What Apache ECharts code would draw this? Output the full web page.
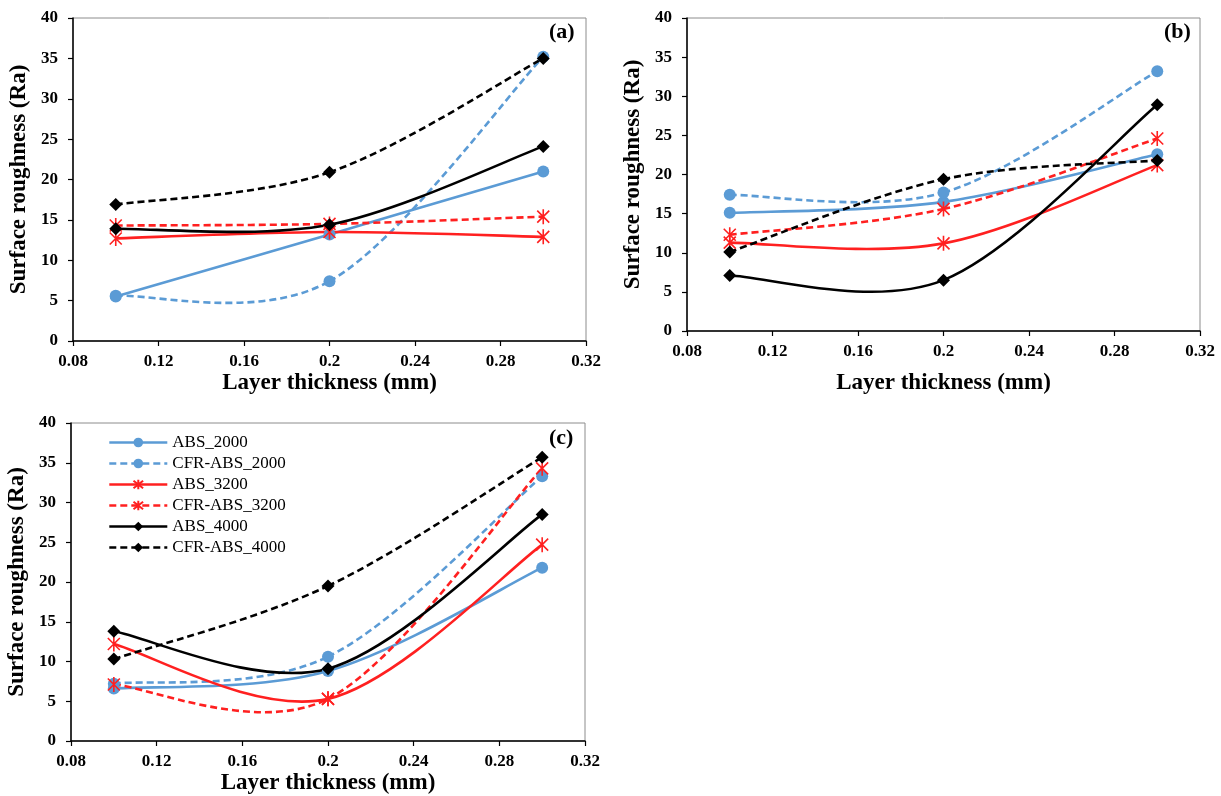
<!DOCTYPE html>
<html>
<head>
<meta charset="utf-8">
<script src="https://cdn.jsdelivr.net/npm/echarts@6/dist/echarts.min.js"></script>
<style>
html,body{margin:0;padding:0;background:#fff;}
#main{width:1221px;height:796px;}
</style>
</head>
<body>
<div id="main"></div>
<script>
// layer thickness (mm)
var xVals = [0.1, 0.2, 0.3];
var names = ['ABS_2000', 'CFR-ABS_2000', 'ABS_3200', 'CFR-ABS_3200', 'ABS_4000', 'CFR-ABS_4000'];
var xTicks = [0.08, 0.12, 0.16, 0.2, 0.24, 0.28, 0.32];
var yTicks = [0, 5, 10, 15, 20, 25, 30, 35, 40];

// (a)
var a_abs2000 = [5.5, 13.2, 21.0];
var a_cfr2000 = [5.6, 7.4, 35.2];
var a_abs3200 = [12.7, 13.5, 12.9];
var a_cfr3200 = [14.3, 14.5, 15.4];
var a_abs4000 = [13.9, 14.4, 24.1];
var a_cfr4000 = [16.9, 20.9, 35.0];
// (b)
var b_abs2000 = [15.1, 16.5, 22.6];
var b_cfr2000 = [17.4, 17.7, 33.2];
var b_abs3200 = [11.3, 11.2, 21.2];
var b_cfr3200 = [12.3, 15.6, 24.6];
var b_abs4000 = [7.1, 6.5, 28.9];
var b_cfr4000 = [10.1, 19.4, 21.8];
// (c)
var c_abs2000 = [6.6, 8.8, 21.8];
var c_cfr2000 = [7.2, 10.6, 33.3];
var c_abs3200 = [12.2, 5.3, 24.7];
var c_cfr3200 = [7.1, 5.3, 34.3];
var c_abs4000 = [13.8, 9.1, 28.5];
var c_cfr4000 = [10.3, 19.5, 35.7];

var panels = [
	[a_abs2000, a_cfr2000, a_abs3200, a_cfr3200, a_abs4000, a_cfr4000],
	[b_abs2000, b_cfr2000, b_abs3200, b_cfr3200, b_abs4000, b_cfr4000],
	[c_abs2000, c_cfr2000, c_abs3200, c_cfr3200, c_abs4000, c_cfr4000]
];

var FONT = 'Liberation Serif';
var BLUE = '#5B9BD5', RED = '#FF2020', BLACK = '#000000';
var STAR = 'path://M0,-10L0,10M-8,-8L8,8M-8,8L8,-8';
var DASH = [7, 4];

var grids = [
	{left: 73, top: 18, width: 513, height: 323, show: true, borderColor: '#8c8c8c', borderWidth: 1},
	{left: 687, top: 18, width: 513, height: 313, show: true, borderColor: '#8c8c8c', borderWidth: 1},
	{left: 71, top: 423, width: 514, height: 320, show: true, borderColor: '#8c8c8c', borderWidth: 1}
];
var xNameGap = [31, 41, 31];

function colorOf(s){ return s < 2 ? BLUE : (s < 4 ? RED : BLACK); }

// 平滑曲线 (Excel式 Catmull-Rom, 1/6)
function smoothRender(n, col, dashed){
	return function(params, api){
		var i = params.dataIndexInside;
		if (i >= n - 1) return null;
		var im = Math.max(i - 1, 0), ip = Math.min(i + 2, n - 1);
		var p0 = [api.value(0, im), api.value(1, im)];
		var p1 = [api.value(0, i), api.value(1, i)];
		var p2 = [api.value(0, i + 1), api.value(1, i + 1)];
		var p3 = [api.value(0, ip), api.value(1, ip)];
		var c1 = api.coord([p1[0] + (p2[0] - p0[0]) / 6, p1[1] + (p2[1] - p0[1]) / 6]);
		var c2 = api.coord([p2[0] - (p3[0] - p1[0]) / 6, p2[1] - (p3[1] - p1[1]) / 6]);
		var a = api.coord(p1), b = api.coord(p2);
		return {
			type: 'bezierCurve',
			shape: {x1: a[0], y1: a[1], x2: b[0], y2: b[1], cpx1: c1[0], cpy1: c1[1], cpx2: c2[0], cpy2: c2[1]},
			style: {stroke: col, fill: 'none', lineWidth: 2.6, lineDash: dashed ? DASH : null},
			silent: true
		};
	};
}

var xAxes = [], yAxes = [], series = [];
for (var g = 0; g < 3; g++) {
	xAxes.push({
		type: 'value', gridIndex: g,
		min: xTicks[0], max: xTicks[xTicks.length - 1], interval: 0.04,
		name: 'Layer thickness (mm)', nameLocation: 'middle', nameGap: xNameGap[g],
		nameTextStyle: {fontFamily: FONT, fontWeight: 'bold', fontSize: 23, color: '#000'},
		axisLine: {lineStyle: {color: '#000', width: 1.5}},
		axisTick: {show: true, length: 5, lineStyle: {color: '#000', width: 1.2}},
		axisLabel: {fontFamily: FONT, fontWeight: 'bold', fontSize: 17, color: '#000', margin: 12,
			formatter: function(v){ return String(+v.toFixed(2)); }},
		splitLine: {show: false}
	});
	yAxes.push({
		type: 'value', gridIndex: g,
		min: yTicks[0], max: yTicks[yTicks.length - 1], interval: 5,
		name: 'Surface roughness (Ra)', nameLocation: 'middle', nameGap: 42,
		nameTextStyle: {fontFamily: FONT, fontWeight: 'bold', fontSize: 23, color: '#000'},
		axisLine: {show: true, lineStyle: {color: '#000', width: 1.5}},
		axisTick: {show: true, length: 5, lineStyle: {color: '#000', width: 1.2}},
		axisLabel: {fontFamily: FONT, fontWeight: 'bold', fontSize: 17, color: '#000', margin: 15},
		splitLine: {show: false}
	});
	for (var s = 0; s < 6; s++) {
		var col = colorOf(s);
		var dashed = s % 2 == 1;
		var pts = [];
		for (var i = 0; i < xVals.length; i++) pts.push([xVals[i], panels[g][s][i]]);
		// 曲线
		series.push({
			name: names[s] + '_curve', type: 'custom', xAxisIndex: g, yAxisIndex: g,
			data: pts, renderItem: smoothRender(pts.length, col, dashed), z: 2 + s, silent: true
		});
	}
	for (var s = 0; s < 6; s++) {
		var col = colorOf(s);
		var sym, size, itemStyle;
		if (s < 2) { sym = 'circle'; size = 12; itemStyle = {color: col}; }
		else if (s < 4) { sym = STAR; size = 15; itemStyle = {color: 'none', borderColor: col, borderWidth: 1.6}; }
		else { sym = 'diamond'; size = 13; itemStyle = {color: col}; }
		var pts = [];
		for (var i = 0; i < xVals.length; i++) pts.push([xVals[i], panels[g][s][i]]);
		// 标记点
		series.push({
			name: names[s], type: 'line', xAxisIndex: g, yAxisIndex: g,
			data: pts, symbol: sym, symbolSize: size, symbolKeepAspect: true,
			showAllSymbol: true,
			lineStyle: {color: col, width: 0, opacity: 0},
			itemStyle: itemStyle,
			emphasis: {disabled: true},
			z: 10 + s
		});
	}
}

var legendData = [];
for (var s = 0; s < 6; s++) {
	legendData.push({
		name: names[s],
		lineStyle: {color: colorOf(s), width: 2.6, opacity: 1, type: s % 2 == 1 ? DASH : 'solid'}
	});
}

var chart = echarts.init(document.getElementById('main'));
var option = {
	backgroundColor: '#fff',
	animation: false,
	grid: grids,
	xAxis: xAxes,
	yAxis: yAxes,
	legend: {
		data: legendData, orient: 'vertical', left: 103, top: 429,
		itemWidth: 58, itemHeight: 12, itemGap: 4,
		textStyle: {fontFamily: FONT, fontSize: 17, color: '#000'},
		selectedMode: false
	},
	graphic: [
		{type: 'text', left: 549, top: 21, style: {text: '(a)', font: 'bold 22px "Liberation Serif"', fill: '#000'}},
		{type: 'text', left: 1164, top: 21, style: {text: '(b)', font: 'bold 22px "Liberation Serif"', fill: '#000'}},
		{type: 'text', left: 549, top: 427, style: {text: '(c)', font: 'bold 22px "Liberation Serif"', fill: '#000'}}
	],
	series: series
};
chart.setOption(option);
</script>
</body>
</html>
